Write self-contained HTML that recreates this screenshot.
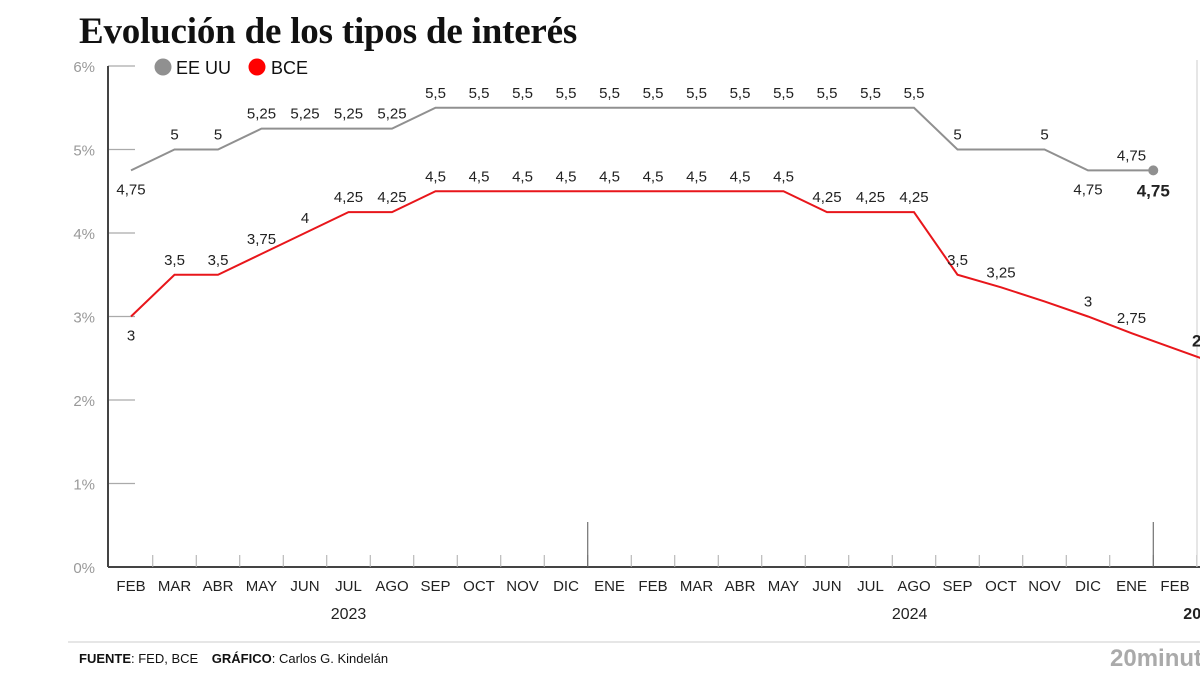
<!DOCTYPE html>
<html><head><meta charset="utf-8"><style>
body{margin:0;width:1200px;height:675px;overflow:hidden;background:#fff;font-family:"Liberation Sans",sans-serif}
#title{position:absolute;left:79px;top:10px;font-family:"Liberation Serif",serif;font-weight:bold;font-size:37px;color:#111;margin:0;letter-spacing:-0.2px}
</style></head><body>
<h1 id="title">Evolución de los tipos de interés</h1>
<svg id="c" width="1200" height="675" style="position:absolute;left:0;top:0"></svg>
<script>
const months=["FEB","MAR","ABR","MAY","JUN","JUL","AGO","SEP","OCT","NOV","DIC","ENE","FEB","MAR","ABR","MAY","JUN","JUL","AGO","SEP","OCT","NOV","DIC","ENE","FEB"];
const yTicks=[0,1,2,3,4,5,6];
const usIdx=[0,1,2,3,4,5,6,7,8,9,10,11,12,13,14,15,16,17,18,19,20,21,22,23,23.5];
const usVals=[4.75,5,5,5.25,5.25,5.25,5.25,5.5,5.5,5.5,5.5,5.5,5.5,5.5,5.5,5.5,5.5,5.5,5.5,5,5,5,4.75,4.75,4.75];
const usLabels=["4,75","5","5","5,25","5,25","5,25","5,25","5,5","5,5","5,5","5,5","5,5","5,5","5,5","5,5","5,5","5,5","5,5","5,5","5","","5","4,75","4,75","4,75"];
const usBelow=[1,0,0,0,0,0,0,0,0,0,0,0,0,0,0,0,0,0,0,0,0,0,1,0,1];
const ecbIdx=[0,1,2,3,4,5,6,7,8,9,10,11,12,13,14,15,16,17,18,19,20,21,22,23,24.6];
const ecbVals=[3,3.5,3.5,3.75,4,4.25,4.25,4.5,4.5,4.5,4.5,4.5,4.5,4.5,4.5,4.5,4.25,4.25,4.25,3.5,3.35,3.18,3,2.8,2.5];
const ecbLabels=["3","3,5","3,5","3,75","4","4,25","4,25","4,5","4,5","4,5","4,5","4,5","4,5","4,5","4,5","4,5","4,25","4,25","4,25","3,5","3,25","","3","2,75",""];
const ecbBelow=[1,0,0,0,0,0,0,0,0,0,0,0,0,0,0,0,0,0,0,0,0,0,0,0,0];
const years=[{t:"2023",i:5},{t:"2024",i:17.9},{t:"2025",i:24.6}];
const svg=document.getElementById('c');const NS="http://www.w3.org/2000/svg";
const x=i=>131+i*43.5, y=v=>567-v*83.5;
function el(tag,a,txt){const e=document.createElementNS(NS,tag);for(const k in a)e.setAttribute(k,a[k]);if(txt!==undefined)e.textContent=txt;svg.appendChild(e);return e;}
yTicks.forEach(v=>{
 const t=el('text',{x:95,y:y(v)+6,'text-anchor':'end','font-size':15,fill:'#999'},v+'%');
 
 if(v>0){const l=el('line',{x1:108,x2:135,y1:y(v),y2:y(v),stroke:'#aaa','stroke-width':1.2});
 }
});
let a=el('line',{x1:108,x2:108,y1:66,y2:567,stroke:'#444','stroke-width':2});
a=el('line',{x1:108,x2:1200,y1:567,y2:567,stroke:'#444','stroke-width':2});
months.forEach((m,i)=>{
 const t=el('text',{x:x(i),y:591,'text-anchor':'middle','font-size':15,fill:'#222'},m);
 
 const tk=el('line',{x1:x(i)+21.75,x2:x(i)+21.75,y1:555,y2:567,stroke:'#aaa','stroke-width':1});
 
});
[10.5,23.5].forEach(i=>{const l=el('line',{x1:x(i),x2:x(i),y1:522,y2:567,stroke:'#555','stroke-width':1});});
a=el('line',{x1:1197,x2:1197,y1:60,y2:567,stroke:'#ccc','stroke-width':1});
years.forEach(yy=>{const t=el('text',{x:x(yy.i),y:619,'text-anchor':'middle','font-size':16,fill:'#222','font-weight':yy.t==='2025'?'bold':'normal'},yy.t);
 });
function series(idx,vals,labels,below,color,name){
 const p=el('polyline',{points:idx.map((i,k)=>x(i)+','+y(vals[k])).join(' '),fill:'none',stroke:color,'stroke-width':2});
 
 labels.forEach((lb,k)=>{if(!lb)return;
  const t=el('text',{x:x(idx[k]),y:below[k]?y(vals[k])+24:y(vals[k])-10,'text-anchor':'middle','font-size':15,fill:'#222'},lb);
  });
}
series(usIdx,usVals,usLabels.slice(0,24).concat([""]),usBelow,'#909090','eeuu');
series(ecbIdx,ecbVals,ecbLabels,ecbBelow,'#e8161b','bce');
const last=usIdx.length-1;
a=el('circle',{cx:x(usIdx[last]),cy:y(usVals[last]),r:5,fill:'#909090'});
a=el('text',{x:x(usIdx[last]),y:y(usVals[last])+26,'text-anchor':'middle','font-size':17,'font-weight':'bold',fill:'#222'},usLabels[last]);
a=el('text',{x:1192,y:y(2.5)-12,'font-size':17,'font-weight':'bold',fill:'#222'},'2,5');
a=el('circle',{cx:163,cy:67,r:8.5,fill:'#909090'});
a=el('text',{x:176,y:74,'font-size':18,fill:'#111'},'EE UU');
a=el('circle',{cx:257,cy:67,r:8.5,fill:'#ff0000'});
a=el('text',{x:271,y:74,'font-size':18,fill:'#111'},'BCE');
a=el('line',{x1:68,x2:1200,y1:642,y2:642,stroke:'#ddd','stroke-width':1.5});
a=el('text',{x:79,y:663,'font-size':13,fill:'#111'});a.innerHTML='<tspan font-weight="bold">FUENTE</tspan>: FED, BCE   <tspan font-weight="bold" dx="10">GRÁFICO</tspan>: Carlos G. Kindelán';

a=el('text',{x:1110,y:666,'font-size':24,fill:'#aaa','font-weight':'bold'},'20minutos');
</script>
</body></html>
